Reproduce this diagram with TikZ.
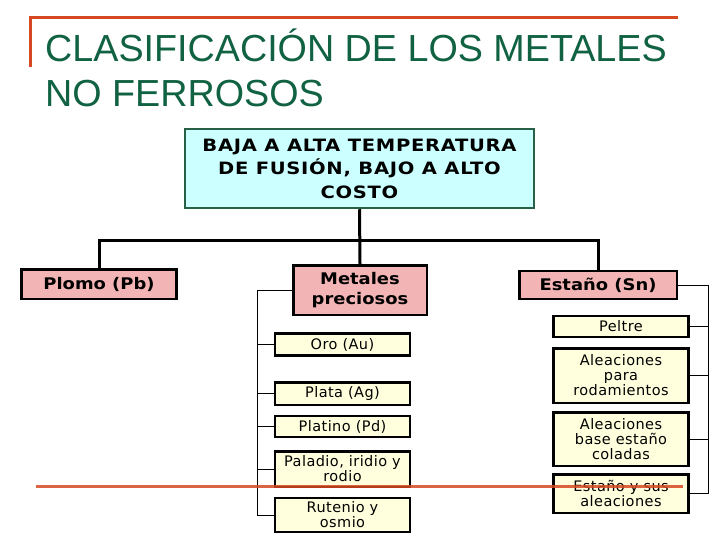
\documentclass[tikz,border=0pt]{standalone}
\usepackage{fontspec}
\newfontfamily\childfont{DejaVu Sans}[LetterSpace=3]
\newfontfamily\pinkfont{DejaVu Sans}[FakeStretch=1.12]
\newfontfamily\topfont{DejaVu Sans}[FakeStretch=1.15,LetterSpace=4]
\newfontfamily\titlefont{Liberation Sans}
\definecolor{titlegreen}{RGB}{16,98,66}
\definecolor{rule}{RGB}{214,72,34}
\definecolor{cyanfill}{RGB}{204,255,255}
\definecolor{topborder}{RGB}{40,96,70}
\definecolor{pinkfill}{RGB}{242,180,180}
\definecolor{creamfill}{RGB}{255,255,222}
\tikzset{
  basebox/.style={draw=black, line width=2.5pt, inner sep=0pt, align=center, text=black},
  childbox/.style={basebox, fill=creamfill, minimum width=135pt, font=\childfont\fontsize{14.5}{15}\selectfont},
  pinkbox/.style={basebox, fill=pinkfill, font=\pinkfont\bfseries\fontsize{16}{20.5}\selectfont},
  topbox/.style={basebox, draw=topborder, fill=cyanfill, font=\topfont\bfseries\fontsize{17}{23.5}\selectfont},
  thinline/.style={line width=1pt, draw=black},
  busline/.style={line width=3pt, draw=black},
  redrule/.style={line width=3pt, draw=rule},
  titletext/.style={text=titlegreen, font=\titlefont\fontsize{37.7}{40}\selectfont, inner sep=0pt, anchor=base west}
}
\begin{document}
\begin{tikzpicture}[x=1pt,y=-1pt]
\useasboundingbox (0,0) rectangle (720,540);

% title
\coordinate (tl) at (30,18);
\coordinate (tr) at (678,18);
\coordinate (tb) at (30,67);
\draw[redrule] (tb) -- (tl) -- (tr);
\node[titletext] (title1) at (45,62) {CLASIFICACIÓN DE LOS METALES};
\node[titletext] (title2) at (45,107) {NO FERROSOS};

% top box
\node[topbox, minimum width=349pt, minimum height=79pt] (top) at (359.5,168.5)
  {BAJA A ALTA TEMPERATURA\\DE FUSIÓN, BAJO A ALTO\\COSTO};

% level 1
\node[pinkbox, minimum width=155pt, minimum height=29.5pt] (plomo) at (99,284) {Plomo (Pb)};
\node[pinkbox, minimum width=133.5pt, minimum height=49.5pt] (metales) at (360,290) {Metales\\preciosos};
\node[pinkbox, minimum width=157.5pt, minimum height=28pt] (estano) at (598,285) {Estaño (Sn)};

% bus
\coordinate (busL) at (99,240);
\coordinate (busR) at (598,240);
\draw[busline] (plomo.north) -- (busL) -- (busR) -- (estano.north);
\draw[busline] (top.south) -- (metales.north);

% left children
\node[childbox, minimum height=22pt] (oro) at (342.5,344.5) {Oro (Au)};
\node[childbox, minimum height=22.5pt] (plata) at (342.5,393.5) {Plata (Ag)};
\node[childbox, minimum height=21pt] (platino) at (342.5,426.5) {Platino (Pd)};
\node[childbox, minimum height=35.5pt] (paladio) at (342.5,469) {Paladio, iridio y\\rodio};
\node[childbox, minimum height=34pt] (rutenio) at (342.5,515) {Rutenio y\\osmio};

\coordinate (lt) at (257,290);
\draw[thinline] (metales.west) -- (lt) -- (lt |- rutenio.west) -- (rutenio.west);
\foreach \n in {oro,plata,platino,paladio}{
  \draw[thinline] (lt |- \n.west) -- (\n.west);
}

% right children
\node[childbox, minimum height=21pt] (peltre) at (621,326.5) {Peltre};
\node[childbox, minimum height=54.5pt] (rodam) at (621,375.5) {Aleaciones\\para\\rodamientos};
\node[childbox, minimum height=53.5pt] (colada) at (621,439) {Aleaciones\\base estaño\\coladas};
\node[childbox, minimum height=38.5pt] (susale) at (621,493.5) {Estaño y sus\\aleaciones};

\coordinate (rt) at (708,285);
\draw[thinline] (estano.east) -- (rt) -- (rt |- susale.east) -- (susale.east);
\foreach \n in {peltre,rodam,colada}{
  \draw[thinline] (rt |- \n.east) -- (\n.east);
}

% bottom rule
\coordinate (bl) at (36,486);
\coordinate (br) at (683,486);
\draw[redrule, draw opacity=0.85] (bl) -- (br);
\end{tikzpicture}
\end{document}
